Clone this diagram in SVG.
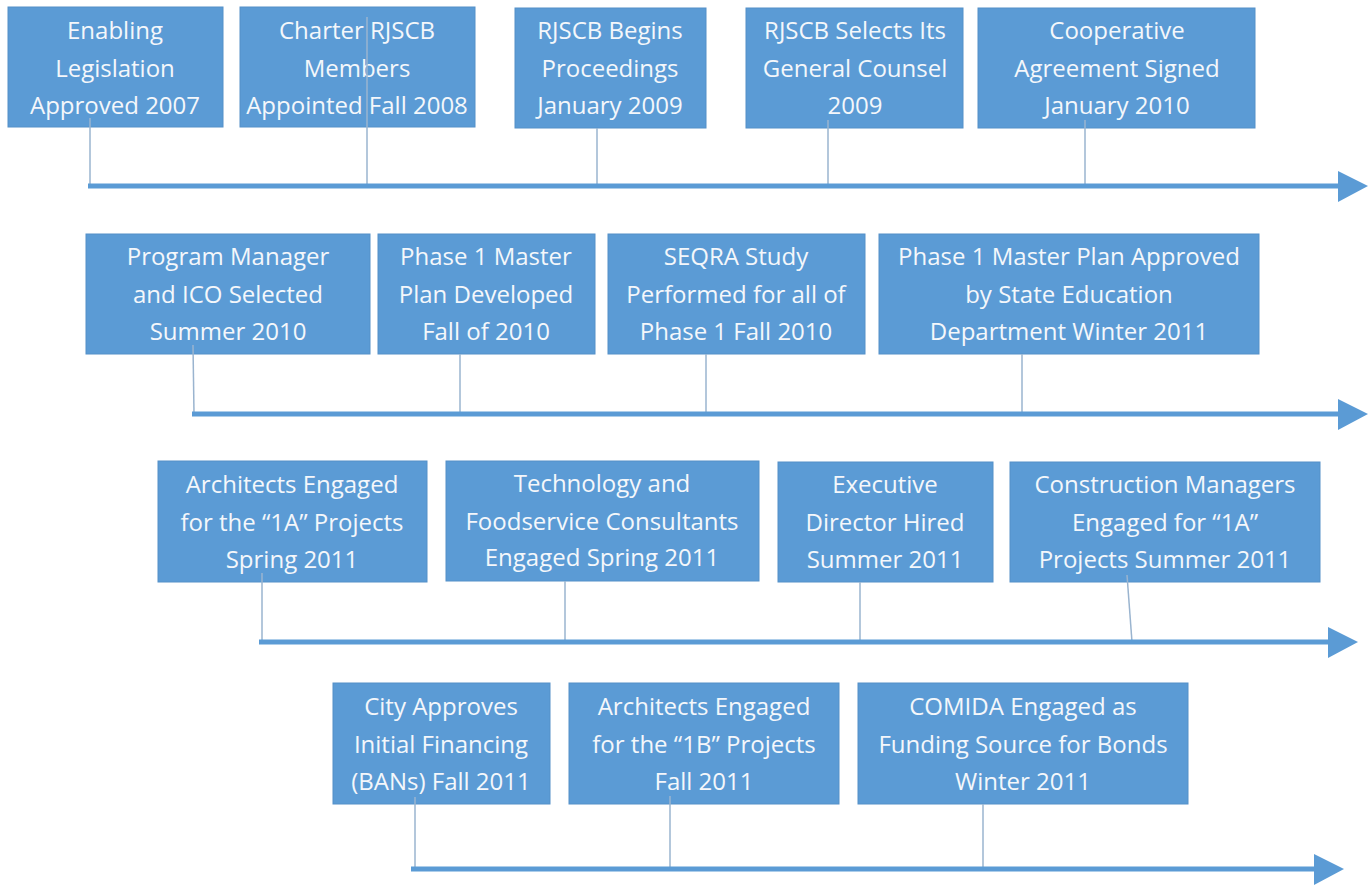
<svg xmlns="http://www.w3.org/2000/svg" width="1372" height="886" viewBox="0 0 1372 886">
<style>
.box{fill:#5b9bd5;stroke:#5590c8;stroke-width:1}
.t{font-family:"Open Sans","Liberation Sans",Arial,sans-serif;font-size:24px;fill:#f4f7fb;text-anchor:middle}
.c{stroke:#9ab4cf;stroke-width:1.5;fill:none}
.tl{stroke:#5b9bd5;stroke-width:5;fill:none}
.ah{fill:#5b9bd5}
</style>
<rect width="1372" height="886" fill="#ffffff"/>
<g id="n1"><rect class="box" x="8" y="7" width="215" height="120"/><text class="t"><tspan x="115" y="39">Enabling</tspan><tspan x="115" y="77">Legislation</tspan><tspan x="115" y="114">Approved 2007</tspan></text></g>
<g id="n2"><rect class="box" x="240" y="7" width="235" height="120"/><text class="t"><tspan x="357" y="39">Charter RJSCB</tspan><tspan x="357" y="77">Members</tspan><tspan x="357" y="114">Appointed Fall 2008</tspan></text></g>
<g id="n3"><rect class="box" x="515" y="8" width="191" height="120"/><text class="t"><tspan x="610" y="39">RJSCB Begins</tspan><tspan x="610" y="77">Proceedings</tspan><tspan x="610" y="114">January 2009</tspan></text></g>
<g id="n4"><rect class="box" x="746" y="8" width="217" height="120"/><text class="t"><tspan x="855" y="39">RJSCB Selects Its</tspan><tspan x="855" y="77">General Counsel</tspan><tspan x="855" y="114">2009</tspan></text></g>
<g id="n5"><rect class="box" x="978" y="8" width="277" height="120"/><text class="t"><tspan x="1117" y="39">Cooperative</tspan><tspan x="1117" y="77">Agreement Signed</tspan><tspan x="1117" y="114">January 2010</tspan></text></g>
<g id="n6"><rect class="box" x="86" y="234" width="284" height="120"/><text class="t"><tspan x="228" y="265">Program Manager</tspan><tspan x="228" y="303">and ICO Selected</tspan><tspan x="228" y="340">Summer 2010</tspan></text></g>
<g id="n7"><rect class="box" x="378" y="234" width="217" height="120"/><text class="t"><tspan x="486" y="265">Phase 1 Master</tspan><tspan x="486" y="303">Plan Developed</tspan><tspan x="486" y="340">Fall of 2010</tspan></text></g>
<g id="n8"><rect class="box" x="608" y="234" width="257" height="120"/><text class="t"><tspan x="736" y="265">SEQRA Study</tspan><tspan x="736" y="303">Performed for all of</tspan><tspan x="736" y="340">Phase 1 Fall 2010</tspan></text></g>
<g id="n9"><rect class="box" x="879" y="234" width="380" height="120"/><text class="t"><tspan x="1069" y="265">Phase 1 Master Plan Approved</tspan><tspan x="1069" y="303">by State Education</tspan><tspan x="1069" y="340">Department Winter 2011</tspan></text></g>
<g id="n10"><rect class="box" x="158" y="461" width="269" height="121"/><text class="t"><tspan x="292" y="493">Architects Engaged</tspan><tspan x="292" y="531">for the “1A” Projects</tspan><tspan x="292" y="568">Spring 2011</tspan></text></g>
<g id="n11"><rect class="box" x="446" y="461" width="313" height="120"/><text class="t"><tspan x="602" y="492">Technology and</tspan><tspan x="602" y="530">Foodservice Consultants</tspan><tspan x="602" y="566">Engaged Spring 2011</tspan></text></g>
<g id="n12"><rect class="box" x="778" y="462" width="215" height="120"/><text class="t"><tspan x="885" y="493">Executive</tspan><tspan x="885" y="531">Director Hired</tspan><tspan x="885" y="568">Summer 2011</tspan></text></g>
<g id="n13"><rect class="box" x="1010" y="462" width="310" height="120"/><text class="t"><tspan x="1165" y="493">Construction Managers</tspan><tspan x="1165" y="531">Engaged for “1A”</tspan><tspan x="1165" y="568">Projects Summer 2011</tspan></text></g>
<g id="n14"><rect class="box" x="333" y="683" width="217" height="121"/><text class="t"><tspan x="441" y="715">City Approves</tspan><tspan x="441" y="753">Initial Financing</tspan><tspan x="441" y="790">(BANs) Fall 2011</tspan></text></g>
<g id="n15"><rect class="box" x="569" y="683" width="270" height="121"/><text class="t"><tspan x="704" y="715">Architects Engaged</tspan><tspan x="704" y="753">for the “1B” Projects</tspan><tspan x="704" y="790">Fall 2011</tspan></text></g>
<g id="n16"><rect class="box" x="858" y="683" width="330" height="121"/><text class="t"><tspan x="1023" y="715">COMIDA Engaged as</tspan><tspan x="1023" y="753">Funding Source for Bonds</tspan><tspan x="1023" y="790">Winter 2011</tspan></text></g>
<g id="connectors">
<line class="c" x1="90" y1="118" x2="90" y2="186"/>
<line class="c" x1="367" y1="17" x2="367" y2="186"/>
<line class="c" x1="597" y1="128" x2="597" y2="186"/>
<line class="c" x1="828" y1="120" x2="828" y2="186"/>
<line class="c" x1="1085" y1="120" x2="1085" y2="186"/>
<line class="tl" x1="88" y1="186" x2="1342" y2="186"/>
<polygon class="ah" points="1338,171 1368,186 1338,202"/>
<line class="c" x1="193" y1="345" x2="194" y2="414"/>
<line class="c" x1="460" y1="354" x2="460" y2="414"/>
<line class="c" x1="706" y1="354" x2="706" y2="414"/>
<line class="c" x1="1022" y1="354" x2="1022" y2="414"/>
<line class="tl" x1="192" y1="414" x2="1342" y2="414"/>
<polygon class="ah" points="1338,399 1368,414 1338,430"/>
<line class="c" x1="262" y1="573" x2="262" y2="642"/>
<line class="c" x1="565" y1="581" x2="565" y2="642"/>
<line class="c" x1="860" y1="582" x2="860" y2="642"/>
<line class="c" x1="1127" y1="575" x2="1132" y2="642"/>
<line class="tl" x1="259" y1="642" x2="1332" y2="642"/>
<polygon class="ah" points="1328,627 1358,642 1328,658"/>
<line class="c" x1="415" y1="797" x2="415" y2="869"/>
<line class="c" x1="670" y1="796" x2="670" y2="869"/>
<line class="c" x1="983" y1="804" x2="983" y2="869"/>
<line class="tl" x1="411" y1="869" x2="1318" y2="869"/>
<polygon class="ah" points="1314,854 1344,869 1314,885"/>
</g>
</svg>
